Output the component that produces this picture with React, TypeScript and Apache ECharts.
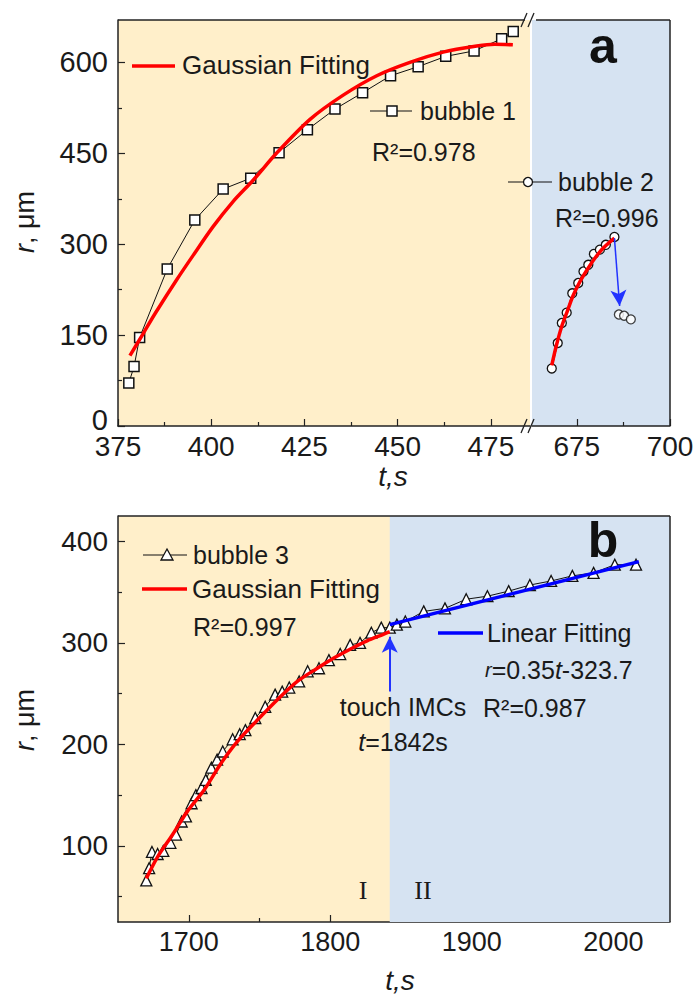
import React, { useEffect, useRef } from 'react';
import * as echarts from 'echarts';

// ---------- Panel a data ----------
const bubble1T = [377.9, 379.3, 380.8, 388.2, 395.6, 403.2, 410.6, 418.2, 425.8, 433.2, 440.6, 448.1, 455.5, 462.9, 470.5, 477.9, 481.0];
const bubble1R = [71, 98, 146, 259, 340, 391, 409, 451, 489, 523, 550, 578, 593, 610, 619, 639, 651];
const fit1T = [378.2, 381.8, 385.0, 390.7, 395.2, 400.5, 405.8, 411.3, 417.5, 426.5, 435.4, 444.4, 453.3, 462.2, 471.2, 476.0, 480.9];
const fit1R = [116, 153, 186, 241, 282, 329, 370, 406, 450, 506, 546, 578, 600, 617, 627, 630, 629];

const bubble2T = [668.3, 669.9, 671.0, 672.3, 673.8, 675.4, 676.8, 678.1, 679.6, 681.2, 682.8, 685.1];
const bubble2R = [95, 137, 170, 187, 219, 236, 255, 266, 284, 291, 299, 312];
const bubble2AfterT = [686.3, 687.7, 689.5];
const bubble2AfterR = [184, 182, 176];
const fit2T = [668.3, 669.5, 671.0, 672.5, 674.0, 676.0, 678.0, 680.0, 682.0, 685.1];
const fit2R = [100, 132, 165, 190, 215, 240, 260, 278, 293, 310];
const drop2From = [685.1, 310];
const drop2To = [686.5, 198];

const aXLeftTicks = [375, 400, 425, 450, 475];
const aXLeftMinor = [387.5, 412.5, 437.5, 462.5];
const aXRightTicks = [675, 700];
const aXRightMinor = [687.5];
const aYTicks = [0, 150, 300, 450, 600];
const aYMinor = [75, 225, 375, 525];

// ---------- Panel b data ----------
const bubble3T = [1670, 1672, 1674, 1678, 1682, 1687, 1691, 1695, 1698, 1702, 1705, 1709, 1712, 1716, 1720, 1724, 1731, 1736, 1740, 1747, 1754, 1761, 1766, 1771, 1778, 1784, 1792, 1799, 1807, 1814, 1821, 1829, 1836,
  1842, 1847, 1853, 1866, 1881, 1896, 1911, 1926, 1941, 1956, 1971, 1986, 2001, 2016];
const bubble3R = [66, 78, 94, 92, 95, 103, 111, 124, 129, 142, 150, 157, 165, 177, 185, 193, 205, 210, 214, 226, 237, 249, 252, 256, 262, 272, 275, 283, 289, 298, 300, 310, 315,
  315, 318, 321, 331, 334, 343, 346, 351, 357, 361, 366, 369, 377, 377];
const fit3T = [1670, 1677.9, 1688.5, 1699, 1710.8, 1722.6, 1734.4, 1748.5, 1762.6, 1776.7, 1790.8, 1802.5, 1814.3, 1826, 1836.7, 1842];
const fit3R = [68, 89, 111, 134, 155, 181, 203, 224, 244, 262, 275, 285, 294, 302, 308, 311];
const linT = [1842, 2018];
const linR = [318, 380];
const touchT = 1842;
const touchArrowR = [252, 306];

const bXTicks = [1700, 1800, 1900, 2000];
const bXMinor = [1750, 1850, 1950];
const bYTicks = [100, 200, 300, 400];
const bYMinor = [50, 150, 250, 350];

const zip = (a: number[], b: number[]) => a.map((v, i) => [v, b[i]]);

const YELLOW = '#FFEFCA';
const BLUE = '#D6E3F2';
const INK = '#1a1a1a';
const FRAME = '#222';
const FONT = 'Liberation Sans, Arial, sans-serif';

const plainFmt = (v: number) => String(v);

function majorX(gridIndex: number, min: number, max: number, ticks: number[], fs: number) {
  return {
    type: 'value', gridIndex, min, max, position: 'bottom',
    axisLine: { show: true, onZero: false, lineStyle: { color: FRAME, width: 1.5 } },
    axisTick: { show: true, inside: true, length: 7, customValues: ticks, lineStyle: { color: FRAME, width: 1.2 } },
    axisLabel: { show: true, customValues: ticks, fontSize: fs, margin: 6, color: INK, fontFamily: FONT, formatter: plainFmt },
    splitLine: { show: false },
  };
}
function minorX(gridIndex: number, min: number, max: number, ticks: number[]) {
  return {
    type: 'value', gridIndex, min, max, position: 'bottom',
    axisLine: { show: false, onZero: false },
    axisTick: { show: true, inside: true, length: 4, customValues: ticks, lineStyle: { color: FRAME, width: 1.2 } },
    axisLabel: { show: false },
    splitLine: { show: false },
  };
}
function majorY(gridIndex: number, min: number, max: number, ticks: number[], labels: number[], fs: number) {
  return {
    type: 'value', gridIndex, min, max, position: 'left',
    axisLine: { show: true, onZero: false, lineStyle: { color: FRAME, width: 1.5 } },
    axisTick: { show: true, inside: true, length: 7, customValues: ticks, lineStyle: { color: FRAME, width: 1.2 } },
    axisLabel: { show: true, customValues: labels, fontSize: fs, margin: 10, color: INK, fontFamily: FONT, formatter: plainFmt },
    splitLine: { show: false },
  };
}
function minorY(gridIndex: number, min: number, max: number, ticks: number[], bottomLabels: number[] = [], fs = 29) {
  return {
    type: 'value', gridIndex, min, max, position: 'left',
    axisLine: { show: false, onZero: false },
    axisTick: { show: true, inside: true, length: 4, customValues: ticks, lineStyle: { color: FRAME, width: 1.2 } },
    axisLabel: {
      show: bottomLabels.length > 0, customValues: bottomLabels, fontSize: fs, margin: 10, color: INK, fontFamily: FONT,
      formatter: plainFmt, verticalAlign: 'bottom', lineHeight: 12,
    },
    splitLine: { show: false },
  };
}

const txt = (x: number, y: number, text: string, extra: any = {}) => ({
  type: 'text', x, y, z: 50,
  style: { text, fill: INK, font: `25px ${FONT}`, verticalAlign: 'middle', align: 'left', ...extra },
});
const seg = (x1: number, y1: number, x2: number, y2: number, stroke: string, lineWidth: number) => ({
  type: 'line', z: 50, shape: { x1, y1, x2, y2 }, style: { stroke, lineWidth },
});

export default function App() {
  const ref = useRef<HTMLDivElement>(null);
  useEffect(() => {
    const chart = echarts.init(ref.current!, null, { renderer: 'svg' });
    const richIt = {
      i: { fontStyle: 'italic', fontSize: 25, fontFamily: FONT, fill: INK },
      n: { fontSize: 25, fontFamily: FONT, fill: INK },
      si: { fontStyle: 'italic', fontSize: 20, fontFamily: FONT, fill: INK },
    };
    const titleRich = { i: { fontStyle: 'italic', fontSize: 28, fontFamily: FONT, fill: INK } };
    const yTitleRich = { i: { fontStyle: 'italic', fontSize: 27, fontFamily: FONT, fill: INK }, n: { fontSize: 27, fontFamily: FONT, fill: INK } };
    const option: any = {
      animation: false,
      backgroundColor: '#fff',
      grid: [
        { left: 118, top: 20, width: 412, height: 406, show: true, backgroundColor: YELLOW, borderWidth: 0 },
        { left: 532, top: 20, width: 138, height: 406, show: true, backgroundColor: BLUE, borderWidth: 0 },
        { left: 118, top: 516, width: 552, height: 406, show: true, backgroundColor: YELLOW, borderWidth: 0 },
      ],
      xAxis: [
        majorX(0, 375, 485.5, aXLeftTicks, 28),
        minorX(0, 375, 485.5, aXLeftMinor),
        majorX(1, 663, 700, aXRightTicks, 28),
        minorX(1, 663, 700, aXRightMinor),
        majorX(2, 1650, 2040, bXTicks, 27),
        minorX(2, 1650, 2040, bXMinor),
      ],
      yAxis: [
        majorY(0, 0, 670, aYTicks, aYTicks.slice(1), 29),
        minorY(0, 0, 670, aYMinor, aYTicks.slice(0, 1), 29),
        { type: 'value', gridIndex: 1, min: 0, max: 670, show: false },
        majorY(2, 25, 425, bYTicks, bYTicks, 28),
        minorY(2, 25, 425, bYMinor),
      ],
      series: [
        {
          type: 'line', xAxisIndex: 4, yAxisIndex: 3, data: [], z: 1,
          markArea: { silent: true, itemStyle: { color: BLUE }, data: [[{ xAxis: touchT }, { xAxis: 2040 }]] },
        },
        {
          type: 'line', name: 'bubble 1', xAxisIndex: 0, yAxisIndex: 0, data: zip(bubble1T, bubble1R),
          symbol: 'rect', symbolSize: 10, showAllSymbol: true,
          lineStyle: { color: '#111', width: 1 }, itemStyle: { color: '#fff', borderColor: '#111', borderWidth: 1.5 }, z: 3,
        },
        {
          type: 'line', name: 'fit1', xAxisIndex: 0, yAxisIndex: 0, data: zip(fit1T, fit1R), smooth: 0.3,
          symbol: 'none', lineStyle: { color: '#FF0000', width: 3.5 }, z: 4,
        },
        {
          type: 'line', name: 'bubble 2', xAxisIndex: 2, yAxisIndex: 2, data: zip(bubble2T, bubble2R),
          symbol: 'circle', symbolSize: 9, showAllSymbol: true,
          lineStyle: { color: '#111', width: 1 }, itemStyle: { color: '#fff', borderColor: '#111', borderWidth: 1.3 }, z: 3,
        },
        {
          type: 'scatter', xAxisIndex: 2, yAxisIndex: 2, data: zip(bubble2AfterT, bubble2AfterR),
          symbol: 'circle', symbolSize: 9, itemStyle: { color: '#fff', borderColor: '#111', borderWidth: 1.3 }, z: 3,
        },
        {
          type: 'line', name: 'fit2', xAxisIndex: 2, yAxisIndex: 2, data: zip(fit2T, fit2R), smooth: 0.3,
          symbol: 'none', lineStyle: { color: '#FF0000', width: 3.5 }, z: 4,
          markLine: {
            silent: true, symbol: ['none', 'arrow'], symbolSize: [12, 16], label: { show: false },
            lineStyle: { color: '#2233FF', width: 1.5, type: 'solid' },
            data: [[{ coord: drop2From }, { coord: drop2To }]],
          },
        },
        {
          type: 'line', name: 'bubble 3', xAxisIndex: 4, yAxisIndex: 3, data: zip(bubble3T, bubble3R),
          symbol: 'triangle', symbolSize: 11, showAllSymbol: true,
          lineStyle: { color: '#111', width: 1 }, itemStyle: { color: '#fff', borderColor: '#111', borderWidth: 1.3 }, z: 3,
        },
        {
          type: 'line', name: 'fit3', xAxisIndex: 4, yAxisIndex: 3, data: zip(fit3T, fit3R), smooth: 0.3,
          symbol: 'none', lineStyle: { color: '#FF0000', width: 3.5 }, z: 4,
        },
        {
          type: 'line', name: 'linear', xAxisIndex: 4, yAxisIndex: 3, data: zip(linT, linR),
          symbol: 'none', lineStyle: { color: '#0000FF', width: 3.5 }, z: 4,
          markLine: {
            silent: true, symbol: ['none', 'arrow'], symbolSize: [12, 16], label: { show: false },
            lineStyle: { color: '#2233FF', width: 2, type: 'solid' },
            data: [[{ coord: [touchT, touchArrowR[0]] }, { coord: [touchT, touchArrowR[1]] }]],
          },
        },
      ],
      graphic: [
        seg(118, 20, 525, 20, FRAME, 1.5),
        seg(536, 20, 670, 20, FRAME, 1.5),
        seg(670, 20, 670, 426, FRAME, 1.5),
        seg(521, 27, 527, 13, FRAME, 1.3),
        seg(528, 27, 534, 13, FRAME, 1.3),
        seg(521, 433, 527, 419, FRAME, 1.3),
        seg(528, 433, 534, 419, FRAME, 1.3),
        seg(118, 516, 670, 516, FRAME, 1.5),
        seg(670, 516, 670, 922, FRAME, 1.5),
        // panel a annotations
        seg(132, 66, 175, 66, '#FF0000', 3.5),
        txt(182, 65, 'Gaussian Fitting', { font: `26px ${FONT}` }),
        seg(370, 111, 412, 111, '#111', 1.2),
        { type: 'rect', z: 51, shape: { x: 387, y: 106, width: 10, height: 10 }, style: { fill: '#fff', stroke: '#111', lineWidth: 1.5 } },
        txt(420, 111, 'bubble 1'),
        txt(372, 152, 'R²=0.978'),
        seg(508, 182, 552, 182, '#111', 1.2),
        { type: 'circle', z: 51, shape: { cx: 528, cy: 182, r: 4.5 }, style: { fill: '#fff', stroke: '#111', lineWidth: 1.3 } },
        txt(558, 182, 'bubble 2'),
        txt(555, 218, 'R²=0.996'),
        txt(603, 46, 'a', { font: `bold 50px ${FONT}`, align: 'center', fill: '#111' }),
        txt(393, 476, '{i|t,s}', { align: 'center', rich: titleRich }),
        { type: 'text', z: 50, x: 25, y: 222, rotation: Math.PI / 2,
          style: { text: '{i|r}{n|, μm}', align: 'center', verticalAlign: 'middle', rich: yTitleRich } },
        // panel b annotations
        txt(603, 540, 'b', { font: `bold 50px ${FONT}`, align: 'center', fill: '#111' }),
        seg(143, 555, 187, 555, '#111', 1.2),
        { type: 'polygon', z: 51, shape: { points: [[167, 549], [173, 560], [161, 560]] }, style: { fill: '#fff', stroke: '#111', lineWidth: 1.3 } },
        txt(193, 555, 'bubble 3'),
        seg(142, 589, 187, 589, '#FF0000', 3.5),
        txt(192, 589, 'Gaussian Fitting', { font: `26px ${FONT}` }),
        txt(193, 627, 'R²=0.997'),
        seg(438, 633, 483, 633, '#0000FF', 3.5),
        txt(487, 633, 'Linear Fitting'),
        txt(485, 670, '{si|r}{n|=0.35}{i|t}{n|-323.7}', { rich: richIt }),
        txt(483, 708, 'R²=0.987'),
        txt(403, 707, 'touch IMCs', { align: 'center' }),
        txt(403, 742, '{i|t}{n|=1842s}', { align: 'center', rich: richIt }),
        txt(363, 890, 'I', { align: 'center', font: '26px "Liberation Serif", "DejaVu Serif", serif' }),
        txt(423, 890, 'II', { align: 'center', font: '26px "Liberation Serif", "DejaVu Serif", serif' }),
        txt(400, 980, '{i|t,s}', { align: 'center', rich: titleRich }),
        { type: 'text', z: 50, x: 25, y: 720, rotation: Math.PI / 2,
          style: { text: '{i|r}{n|, μm}', align: 'center', verticalAlign: 'middle', rich: yTitleRich } },
      ],
    };
    chart.setOption(option);
    return () => chart.dispose();
  }, []);
  return <div ref={ref} style={{ position: 'fixed', left: 0, top: 0, width: 697, height: 994, background: '#fff' }} />;
}
